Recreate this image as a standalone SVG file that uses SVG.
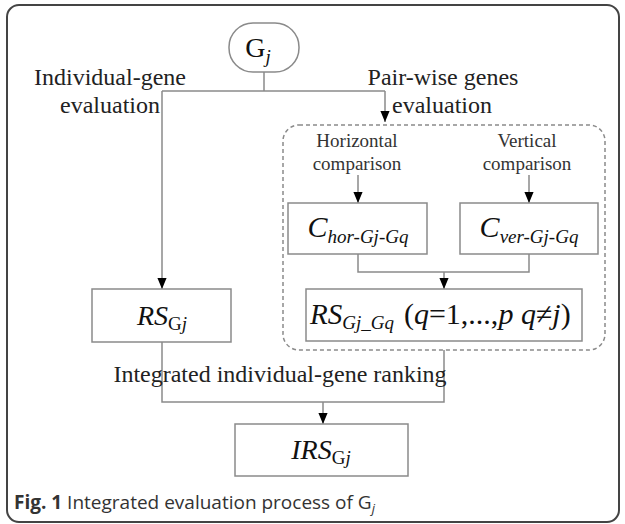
<svg xmlns="http://www.w3.org/2000/svg" width="625" height="524" viewBox="0 0 625 524">
  <defs>
    <marker id="arr" viewBox="0 0 12 10" markerWidth="11" markerHeight="10" refX="12" refY="5" orient="auto" markerUnits="userSpaceOnUse">
      <path d="M0,0 L12,5 L0,10 Z" fill="#000"/>
    </marker>
    <style>
      .box { fill: #fff; stroke: #8a8a8a; stroke-width: 1.5; }
      .conn { fill: none; stroke: #8a8a8a; stroke-width: 1.5; }
      .lbl { font-family: "Liberation Serif", "Times New Roman", serif; font-size: 24px; fill: #222; }
      .sm { font-family: "Liberation Serif", "Times New Roman", serif; font-size: 19px; fill: #333; }
      .math { font-family: "Liberation Serif", "Times New Roman", serif; fill: #111; }
      .cap { font-family: "Open Sans", "Liberation Sans", sans-serif; font-size: 19px; fill: #333; }
    </style>
  </defs>
  <rect x="0" y="0" width="625" height="524" fill="#fff"/>
  <rect x="7" y="5" width="612" height="517" rx="12" fill="#fff" stroke="#444" stroke-width="2"/>

  <g id="connectors">
    <path class="conn" d="M264,72 V91 M162,91 H385"/>
    <path class="conn" d="M162,91 V289" marker-end="url(#arr)"/>
    <path class="conn" d="M385,91 V122" marker-end="url(#arr)"/>
    <path class="conn" d="M358,175 V203" marker-end="url(#arr)"/>
    <path class="conn" d="M529,175 V203" marker-end="url(#arr)"/>
    <path class="conn" d="M358,254 V272 H529 V254"/>
    <path class="conn" d="M444,272 V289" marker-end="url(#arr)"/>
    <path class="conn" d="M162,342 V402 H444 V350"/>
    <path class="conn" d="M323,402 V424" marker-end="url(#arr)"/>
  </g>

  <g id="labels">
    <text class="lbl" x="110" y="85" text-anchor="middle">Individual-gene</text>
    <text class="lbl" x="110" y="113" text-anchor="middle">evaluation</text>
    <text class="lbl" x="443" y="85" text-anchor="middle">Pair-wise genes</text>
    <text class="lbl" x="442" y="113" text-anchor="middle">evaluation</text>
    <text class="lbl" x="280" y="382" text-anchor="middle">Integrated individual-gene ranking</text>
  </g>

  <g id="pairwise-group">
    <rect x="283" y="125" width="322" height="225" rx="16" fill="none" stroke="#8a8a8a" stroke-width="1.5" stroke-dasharray="4,3"/>
    <text class="sm" x="357" y="147" text-anchor="middle">Horizontal</text>
    <text class="sm" x="357" y="170" text-anchor="middle">comparison</text>
    <text class="sm" x="527" y="147" text-anchor="middle">Vertical</text>
    <text class="sm" x="527" y="170" text-anchor="middle">comparison</text>
  </g>

  <g id="node-gj">
    <rect class="box" x="229" y="23" width="70" height="49" rx="24"/>
    <text class="math" x="258" y="57" text-anchor="middle" font-size="28">G<tspan font-size="19" font-style="italic" dy="6">j</tspan></text>
  </g>

  <g id="node-chor">
    <rect class="box" x="288" y="203" width="139" height="51"/>
    <text class="math" x="358" y="237" text-anchor="middle" font-style="italic" font-size="30">C<tspan font-size="19" dy="6">hor-Gj-Gq</tspan></text>
  </g>

  <g id="node-cver">
    <rect class="box" x="460" y="203" width="138" height="51"/>
    <text class="math" x="529" y="237" text-anchor="middle" font-style="italic" font-size="30">C<tspan font-size="19" dy="6">ver-Gj-Gq</tspan></text>
  </g>

  <g id="node-rsgjgq">
    <rect class="box" x="306" y="289" width="276" height="52"/>
    <text class="math" x="310" y="324" font-size="29"><tspan font-style="italic">RS</tspan><tspan font-style="italic" font-size="19" dy="5">Gj_Gq</tspan><tspan font-size="30" dx="10" dy="-5">(<tspan font-style="italic">q</tspan>=1,...,<tspan font-style="italic">p q</tspan>≠<tspan font-style="italic">j</tspan>)</tspan></text>
  </g>

  <g id="node-rsgj">
    <rect class="box" x="92" y="289" width="139" height="53"/>
    <text class="math" x="162" y="325" text-anchor="middle" font-size="28"><tspan font-style="italic">RS</tspan><tspan font-size="19" dy="5">G<tspan font-style="italic">j</tspan></tspan></text>
  </g>

  <g id="node-irs">
    <rect class="box" x="235" y="424" width="173" height="52"/>
    <text class="math" x="321" y="459" text-anchor="middle" font-size="28"><tspan font-style="italic">IRS</tspan><tspan font-size="19" dy="5">G<tspan font-style="italic">j</tspan></tspan></text>
  </g>

  <text class="cap" x="14" y="509"><tspan font-weight="bold">Fig. 1</tspan> Integrated evaluation process of G<tspan font-size="13" font-style="italic" dy="4">j</tspan></text>
</svg>
